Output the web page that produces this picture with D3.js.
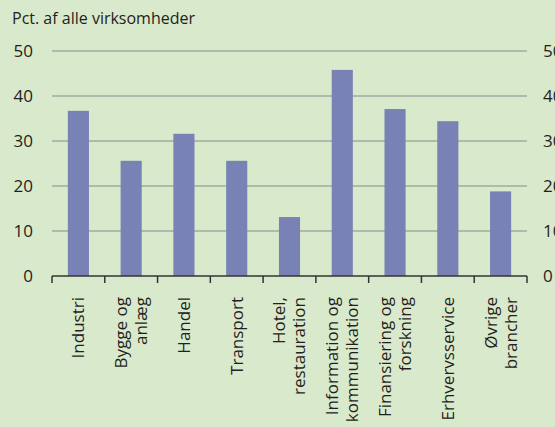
<html>
<head>
<meta charset="utf-8">
<script src="https://d3js.org/d3.v7.min.js"></script>
<style>
  body { margin: 0; background: #d9e9cc; }
  text { font-family: "Open Sans", sans-serif; fill: #231f20; }
</style>
</head>
<body>
<script>
var width = 555
var height = 427

// data
var categories = [
  ["Industri"],
  ["Bygge og", "anlæg"],
  ["Handel"],
  ["Transport"],
  ["Hotel,", "restauration"],
  ["Information og", "kommunikation"],
  ["Finansiering og", "forskning"],
  ["Erhvervsservice"],
  ["Øvrige", "brancher"]
]
var values = [36.7, 25.6, 31.6, 25.6, 13.1, 45.8, 37.1, 34.4, 18.8]
var yTicks = [0, 10, 20, 30, 40, 50]
var yTitle = "Pct. af alle virksomheder"

var svg = d3.select("body").append("svg")
  .attr("width", width)
  .attr("height", height)

svg.append("rect").attr("width", width).attr("height", height).attr("fill", "#d9e9cc")

var x = d3.scaleBand()
  .domain(d3.range(categories.length))
  .range([52, 527])
  .paddingInner(0.6)
  .paddingOuter(0.3)

var y = d3.scaleLinear().domain([0, 50]).range([276, 51])

// gridlines
svg.selectAll("line.grid")
  .data(yTicks.filter(d => d > 0))
  .enter().append("line")
  .attr("class", "grid")
  .attr("x1", 52).attr("x2", 527)
  .attr("y1", d => y(d)).attr("y2", d => y(d))
  .attr("stroke", "#a2a99f")
  .attr("stroke-width", 1.3)

// bars
svg.selectAll("rect.bar")
  .data(values)
  .enter().append("rect")
  .attr("class", "bar")
  .attr("x", (d, i) => x(i))
  .attr("width", x.bandwidth())
  .attr("y", d => y(d))
  .attr("height", d => y(0) - y(d))
  .attr("fill", "#7882b5")

// x axis line and ticks
svg.append("line")
  .attr("x1", 52).attr("x2", 527)
  .attr("y1", y(0)).attr("y2", y(0))
  .attr("stroke", "#333").attr("stroke-width", 1.5)

var step = (527 - 52) / categories.length
svg.selectAll("line.tick")
  .data(d3.range(categories.length + 1))
  .enter().append("line")
  .attr("class", "tick")
  .attr("x1", d => 52 + d * step).attr("x2", d => 52 + d * step)
  .attr("y1", y(0)).attr("y2", y(0) + 7)
  .attr("stroke", "#333").attr("stroke-width", 1.5)

// y labels left and right
svg.selectAll("text.yl")
  .data(yTicks)
  .enter().append("text")
  .attr("class", "yl")
  .attr("x", 33)
  .attr("y", d => y(d))
  .attr("dy", "0.36em")
  .attr("text-anchor", "end")
  .style("font-size", "17px")
  .text(d => d)

svg.selectAll("text.yr")
  .data(yTicks)
  .enter().append("text")
  .attr("class", "yr")
  .attr("x", 543)
  .attr("y", d => y(d))
  .attr("dy", "0.36em")
  .style("font-size", "17px")
  .text(d => d)

svg.append("text")
  .attr("x", 12).attr("y", 24)
  .style("font-size", "16px")
  .text(yTitle)

// category labels
var lab = svg.selectAll("text.cat")
  .data(categories)
  .enter().append("text")
  .attr("class", "cat")
  .attr("text-anchor", "end")
  .style("font-size", "17px")
  .attr("transform", (d, i) => "translate(" + (x(i) + x.bandwidth() / 2) + ",297) rotate(-90)")

lab.selectAll("tspan")
  .data(d => d.map((t, j) => ({t: t, off: (j - (d.length - 1) / 2) * 20})))
  .enter().append("tspan")
  .attr("x", 0)
  .attr("y", d => d.off)
  .attr("dy", "0.35em")
  .text(d => d.t)
</script>
</body>
</html>
